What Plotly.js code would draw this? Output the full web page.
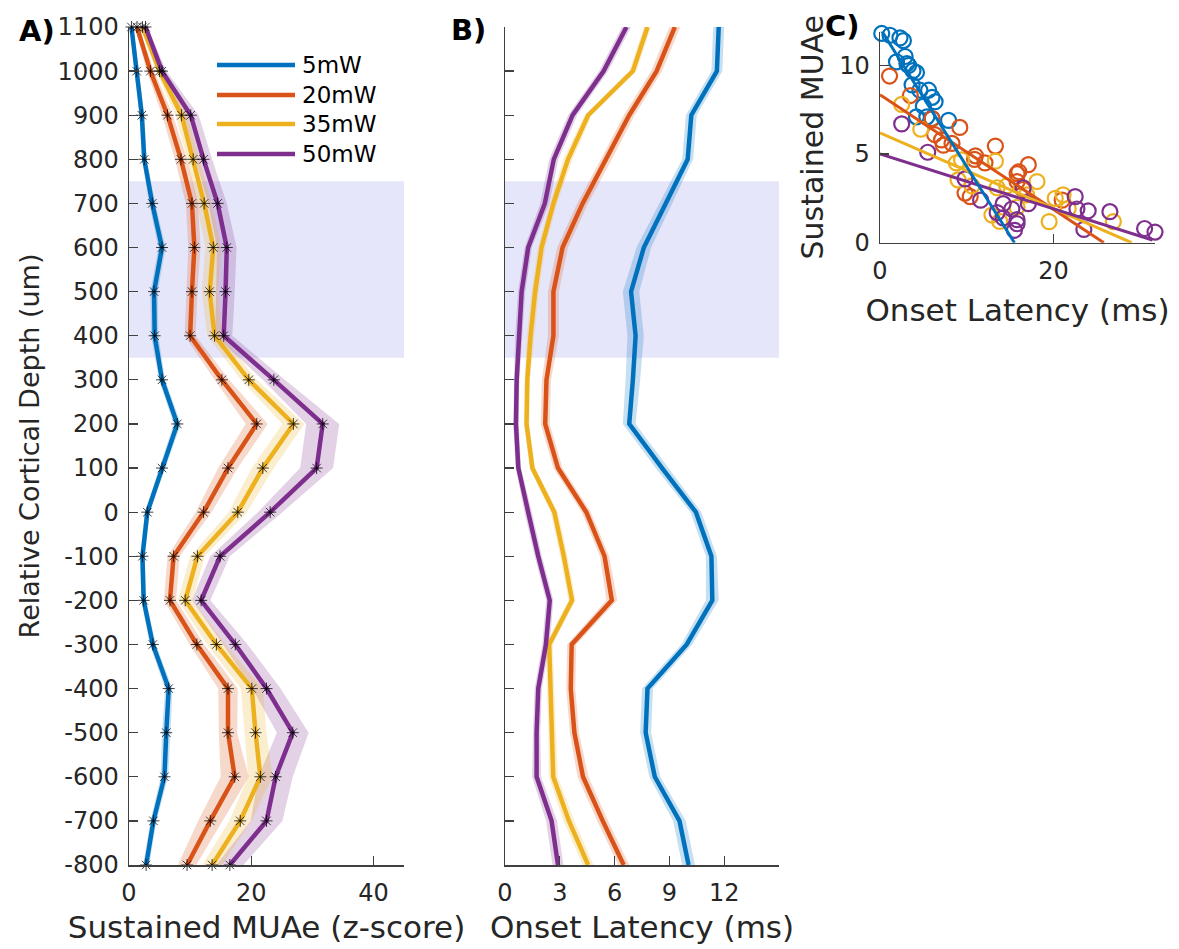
<!DOCTYPE html>
<html>
<head>
<meta charset="utf-8">
<script src="https://cdn.plot.ly/plotly-3.0.1.min.js"></script>
<style>html,body{margin:0;padding:0;background:#fff;}#chart{width:1179px;height:949px;}</style>
</head>
<body>
<div id="chart"></div>
<script>
// ---------- DATA ----------
const powers = ['5mW', '20mW', '35mW', '50mW'];
const colors = ['#0072BD', '#D95319', '#EDB120', '#7E2F8E'];
const bandRGBA = ['rgba(0,114,189,0.22)', 'rgba(217,83,25,0.22)', 'rgba(237,177,32,0.22)', 'rgba(126,47,142,0.22)'];

const depth = [1100, 1000, 900, 800, 700, 600, 500, 400, 300, 200, 100, 0, -100, -200, -300, -400, -500, -600, -700, -800];
const depthTicks = [1100, 1000, 900, 800, 700, 600, 500, 400, 300, 200, 100, 0, -100, -200, -300, -400, -500, -600, -700, -800];
const depthTickLabels = ['1100', '1000', '900', '800', '700', '600', '500', '400', '300', '200', '100', '0', '-100', '-200', '-300', '-400', '-500', '-600', '-700', '-800'];
const highlightDepth = [350, 750];

// Panel A: sustained MUAe (z-score) per depth
const muae5 = [0.4, 1.25, 2.1, 2.5, 3.8, 5.4, 4.1, 4.2, 5.4, 7.9, 5.4, 3.0, 2.2, 2.4, 3.9, 6.5, 6.1, 5.8, 4.0, 2.8];
const muae20 = [1.3, 3.5, 6.3, 8.5, 10.3, 10.7, 10.3, 10.0, 15.2, 20.9, 16.2, 12.2, 7.3, 6.7, 11.1, 16.2, 16.2, 17.3, 13.3, 9.5];
const muae35 = [2.2, 5.0, 8.6, 10.5, 12.3, 13.8, 13.2, 14.0, 19.6, 26.9, 21.9, 17.8, 11.2, 9.2, 14.3, 20.1, 20.7, 21.5, 18.2, 13.6];
const muae50 = [2.7, 5.4, 10.1, 12.2, 14.5, 16.0, 15.8, 15.5, 23.7, 31.7, 30.7, 23.1, 14.9, 11.8, 17.4, 22.5, 26.8, 24.0, 22.5, 16.5];
const muaeErr5 = [0.3, 0.4, 0.4, 0.4, 0.5, 0.6, 0.6, 0.6, 0.5, 0.6, 0.5, 0.4, 0.4, 0.4, 0.5, 0.6, 0.7, 0.6, 0.5, 0.5];
const muaeErr20 = [0.3, 0.6, 0.9, 1.0, 1.0, 1.0, 0.9, 0.9, 1.2, 1.8, 1.6, 1.3, 1.0, 1.0, 1.2, 1.6, 1.5, 2.3, 2.0, 1.5];
const muaeErr35 = [0.3, 0.6, 1.0, 1.0, 1.2, 1.3, 1.3, 1.2, 1.3, 1.8, 1.8, 1.5, 1.2, 1.2, 1.5, 1.8, 1.8, 2.0, 1.8, 1.6];
const muaeErr50 = [0.3, 0.7, 1.3, 1.4, 1.5, 1.6, 1.5, 1.4, 1.8, 2.7, 2.7, 2.0, 1.6, 1.5, 2.0, 2.3, 2.6, 2.8, 2.6, 2.2];

// Panel B: onset latency (ms) per depth
const lat5 = [11.7, 11.6, 10.2, 10.0, 8.8, 7.6, 6.9, 7.15, 7.0, 6.8, 8.6, 10.45, 11.3, 11.35, 9.95, 7.8, 7.7, 8.2, 9.55, 10.05];
const lat20 = [9.3, 8.3, 6.8, 5.55, 4.25, 3.15, 2.65, 2.65, 2.27, 2.2, 2.9, 4.45, 5.45, 5.85, 3.65, 3.6, 3.8, 4.27, 5.35, 6.5];
const lat35 = [7.8, 7.0, 4.55, 3.45, 2.65, 2.0, 1.65, 1.4, 1.22, 1.18, 1.5, 2.7, 3.22, 3.67, 2.42, 2.5, 2.58, 2.64, 3.5, 4.55];
const lat50 = [6.65, 5.4, 3.7, 2.67, 2.18, 1.27, 0.91, 0.76, 0.64, 0.6, 0.73, 1.27, 1.82, 2.45, 2.24, 1.82, 1.73, 1.73, 2.55, 2.9];
const latErr5 = [0.3, 0.3, 0.3, 0.3, 0.35, 0.4, 0.45, 0.45, 0.4, 0.35, 0.35, 0.3, 0.3, 0.35, 0.3, 0.3, 0.3, 0.3, 0.35, 0.35];
const latErr20 = [0.3, 0.3, 0.3, 0.3, 0.3, 0.3, 0.3, 0.3, 0.25, 0.25, 0.25, 0.25, 0.25, 0.3, 0.25, 0.25, 0.25, 0.3, 0.3, 0.3];
const latErr35 = [0.2, 0.2, 0.2, 0.25, 0.2, 0.2, 0.2, 0.2, 0.15, 0.15, 0.15, 0.2, 0.2, 0.2, 0.2, 0.2, 0.2, 0.25, 0.3, 0.3];
const latErr50 = [0.25, 0.25, 0.25, 0.25, 0.25, 0.2, 0.2, 0.2, 0.15, 0.15, 0.15, 0.2, 0.2, 0.2, 0.2, 0.2, 0.2, 0.25, 0.3, 0.3];

// Panel C: scatter of onset latency vs sustained MUAe
const scat5X = [0.2, 1.15, 2.3, 2.7, 1.9, 2.9, 3.3, 3.1, 4.2, 3.8, 3.7, 4.6, 5.6, 6.0, 6.35, 5.0, 4.2, 5.4, 7.9, 6.0];
const scat5Y = [11.8, 11.7, 11.55, 11.4, 10.2, 10.5, 10.0, 10.1, 9.6, 9.7, 8.9, 8.6, 8.6, 8.2, 7.95, 7.7, 7.1, 7.1, 6.9, 7.0];
const scat20X = [1.1, 3.5, 6.0, 6.3, 9.2, 7.3, 8.3, 13.3, 10.9, 12.1, 11.0, 15.8, 16.0, 17.1, 15.8, 10.4, 9.8, 16.5, 21.0, 7.1];
const scat20Y = [9.4, 8.3, 7.0, 6.1, 6.5, 5.5, 5.6, 5.45, 4.7, 4.5, 4.9, 3.9, 4.0, 4.4, 3.45, 2.6, 2.8, 3.0, 2.4, 5.8];
const scat35X = [2.5, 4.7, 9.4, 9.0, 8.8, 13.3, 10.6, 18.1, 13.5, 12.9, 13.8, 19.5, 20.2, 21.1, 21.7, 26.9, 15.8, 16.9, 14.6];
const scat35Y = [7.8, 6.4, 4.67, 3.54, 4.5, 4.6, 3.2, 3.45, 3.1, 1.56, 1.2, 1.19, 2.5, 2.7, 1.93, 1.19, 2.0, 2.7, 3.2];
const scat50X = [2.5, 5.5, 9.8, 11.6, 14.2, 15.2, 15.8, 15.5, 16.5, 17.1, 22.5, 22.7, 23.5, 24.0, 26.5, 30.5, 31.7, 14.2, 13.5, 15.8];
const scat50Y = [6.7, 5.1, 3.6, 2.4, 2.2, 1.9, 1.3, 0.7, 3.1, 2.2, 2.6, 1.9, 0.75, 1.8, 1.75, 0.8, 0.6, 1.4, 1.7, 1.07];
const fit5X = [0, 15.5], fit5Y = [12.1, 0];
const fit20X = [0, 25.8], fit20Y = [8.35, 0];
const fit35X = [0, 29.0], fit35Y = [6.2, 0];
const fit50X = [0, 31.4], fit50Y = [5.0, 0.15];

// ---------- BUILD ----------
const muae = [muae5, muae20, muae35, muae50];
const muaeErr = [muaeErr5, muaeErr20, muaeErr35, muaeErr50];
const lat = [lat5, lat20, lat35, lat50];
const latErr = [latErr5, latErr20, latErr35, latErr50];
const scatX = [scat5X, scat20X, scat35X, scat50X];
const scatY = [scat5Y, scat20Y, scat35Y, scat50Y];
const fitX = [fit5X, fit20X, fit35X, fit50X];
const fitY = [fit5Y, fit20Y, fit35Y, fit50Y];

function band(vals, errs, xa, ya, col) {
  const xs = vals.map((v, i) => v + errs[i]).concat(vals.map((v, i) => v - errs[i]).reverse());
  const ys = depth.concat(depth.slice().reverse());
  return {x: xs, y: ys, xaxis: xa, yaxis: ya, type: 'scatter', mode: 'lines', fill: 'toself',
          fillcolor: col, line: {width: 0}, hoverinfo: 'skip', showlegend: false};
}

const traces = [];
// Panel A bands
for (let k = 3; k >= 0; k--) traces.push(band(muae[k], muaeErr[k], 'x', 'y', bandRGBA[k]));
for (let k = 0; k < 4; k++) traces.push({x: muae[k], y: depth, xaxis: 'x', yaxis: 'y', type: 'scatter', mode: 'lines',
  line: {color: colors[k], width: 4.5}, name: powers[k], showlegend: false, cliponaxis: false});
for (let k = 0; k < 4; k++) traces.push({x: muae[k], y: depth, xaxis: 'x', yaxis: 'y', type: 'scatter', mode: 'markers',
  marker: {symbol: 'asterisk-open', size: 10, color: 'rgba(0,0,0,0.75)', line: {color: 'rgba(20,20,20,0.75)', width: 1}},
  showlegend: false, hoverinfo: 'skip', cliponaxis: false});
// Panel B
for (let k = 3; k >= 0; k--) traces.push(band(lat[k], latErr[k], 'x2', 'y2', bandRGBA[k]));
for (let k = 0; k < 4; k++) traces.push({x: lat[k], y: depth, xaxis: 'x2', yaxis: 'y2', type: 'scatter', mode: 'lines',
  line: {color: colors[k], width: 4.5}, name: powers[k], showlegend: false, cliponaxis: false});
// Panel C
for (let k = 0; k < 4; k++) traces.push({x: scatX[k], y: scatY[k], xaxis: 'x3', yaxis: 'y3', type: 'scatter', mode: 'markers',
  marker: {symbol: 'circle-open', size: 15, color: colors[k], line: {color: colors[k], width: 2.2}},
  showlegend: false, cliponaxis: false});
for (const k of [1, 2, 3, 0]) traces.push({x: fitX[k], y: fitY[k], xaxis: 'x3', yaxis: 'y3', type: 'scatter', mode: 'lines',
  line: {color: colors[k], width: 3}, showlegend: false, cliponaxis: false});

const FONT = 'DejaVu Sans, Verdana, sans-serif';
const TXT = '#262626';
const tickFont = {family: FONT, size: 24, color: TXT};
const xTitleFont = {family: FONT, size: 31, color: TXT};

function axisBase(extra) {
  return Object.assign({showgrid: false, zeroline: false, showline: true, linecolor: '#404040', linewidth: 1.5,
    ticks: 'inside', ticklen: 9, tickwidth: 1.3, tickcolor: '#404040', tickfont: tickFont, mirror: false,
    fixedrange: true, automargin: false}, extra);
}

const W = 1179, H = 949;
const px = v => v / W, py = v => 1 - v / H;

// Legend (custom, in paper coords)
const legendY = [65, 95, 124, 154];
const shapes = [
  {type: 'rect', xref: 'x', yref: 'y', x0: 0, x1: 45, y0: highlightDepth[0], y1: highlightDepth[1], fillcolor: '#e6e6fa', line: {width: 0}, layer: 'below'},
  {type: 'rect', xref: 'x2', yref: 'y2', x0: 0, x1: 15, y0: highlightDepth[0], y1: highlightDepth[1], fillcolor: '#e6e6fa', line: {width: 0}, layer: 'below'}
];
const annotations = [];
for (let k = 0; k < 4; k++) {
  shapes.push({type: 'line', xref: 'paper', yref: 'paper', x0: px(217), x1: px(295), y0: py(legendY[k]), y1: py(legendY[k]),
    line: {color: colors[k], width: 4.5}});
  annotations.push({xref: 'paper', yref: 'paper', x: px(300), y: py(legendY[k]), xanchor: 'left', yanchor: 'middle',
    text: powers[k], showarrow: false, font: {family: FONT, size: 23, color: '#000'}});
}
const labelFont = {family: FONT, size: 29, color: '#000', weight: 'bold'};
annotations.push({xref: 'paper', yref: 'paper', x: px(17), y: py(31), xanchor: 'left', yanchor: 'middle', text: '<b>A)</b>', showarrow: false, font: labelFont});
annotations.push({xref: 'paper', yref: 'paper', x: px(449), y: py(30), xanchor: 'left', yanchor: 'middle', text: '<b>B)</b>', showarrow: false, font: labelFont});
annotations.push({xref: 'paper', yref: 'paper', x: px(823), y: py(26), xanchor: 'left', yanchor: 'middle', text: '<b>C)</b>', showarrow: false, font: labelFont});

const layout = {
  width: W, height: H, margin: {l: 0, r: 0, t: 0, b: 0}, paper_bgcolor: '#fff', plot_bgcolor: 'rgba(0,0,0,0)',
  showlegend: false, font: {family: FONT, color: TXT},
  xaxis: axisBase({domain: [px(129), px(404)], range: [0, 45], tickvals: [0, 20, 40], anchor: 'y',
    title: {text: 'Sustained MUAe (z-score)', font: xTitleFont, standoff: 10}, ticklabelstandoff: 6}),
  yaxis: axisBase({domain: [py(865), py(27)], range: [-800, 1100], tickvals: depthTicks, ticktext: depthTickLabels, anchor: 'x',
    title: {text: 'Relative Cortical Depth (um)', font: {family: FONT, size: 27, color: TXT}, standoff: 10}, ticklabelstandoff: 4}),
  xaxis2: axisBase({domain: [px(505), px(779)], range: [0, 15], tickvals: [0, 3, 6, 9, 12], anchor: 'y2',
    title: {text: 'Onset Latency (ms)', font: xTitleFont, standoff: 10}, ticklabelstandoff: 6}),
  yaxis2: axisBase({domain: [py(865), py(27)], range: [-800, 1100], tickvals: depthTicks, anchor: 'x2', showticklabels: false}),
  xaxis3: axisBase({domain: [px(880), px(1155)], range: [0, 31.7], tickvals: [0, 20], anchor: 'y3',
    title: {text: 'Onset Latency (ms)', font: xTitleFont, standoff: 15}, ticklabelstandoff: 6}),
  yaxis3: axisBase({domain: [py(242.7), py(31.7)], range: [0, 11.9], tickvals: [0, 5, 10], anchor: 'x3',
    title: {text: 'Sustained MUAe', font: {family: FONT, size: 30, color: TXT}, standoff: 6}, ticklabelstandoff: 4}),
  shapes: shapes, annotations: annotations
};

Plotly.newPlot('chart', traces, layout, {displayModeBar: false, staticPlot: true});
</script>
</body>
</html>
